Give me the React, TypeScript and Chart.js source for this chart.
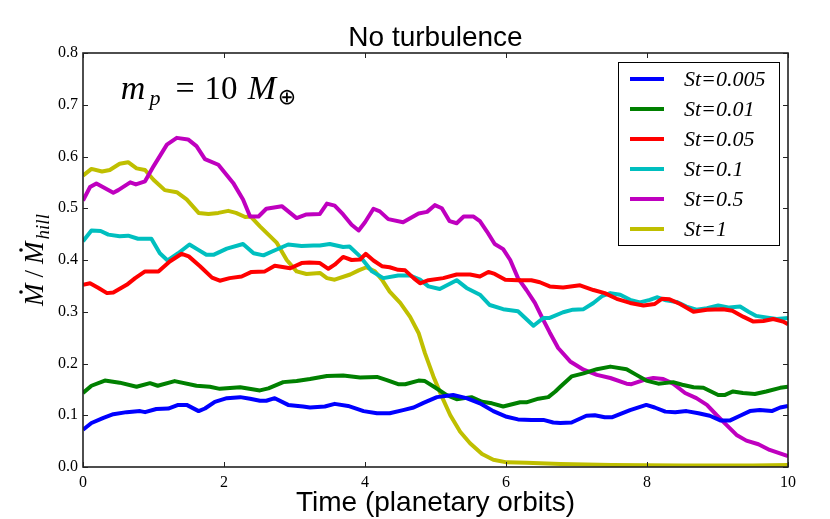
import React, { useEffect, useRef } from "react";
import { Chart, registerables } from "chart.js";

Chart.register(...registerables);

// ---- data ----
const xTicks = [0, 2, 4, 6, 8, 10];
const yTicks = [0, 0.1, 0.2, 0.3, 0.4, 0.5, 0.6, 0.7, 0.8];

const st005T = [0,0.12,0.29,0.43,0.62,0.81,0.88,1.04,1.21,1.35,1.47,1.64,1.73,1.87,2.04,2.23,2.37,2.51,2.6,2.72,2.91,3.12,3.22,3.43,3.57,3.76,3.98,4.17,4.35,4.54,4.69,4.83,5.02,5.25,5.44,5.63,5.82,6.01,6.17,6.36,6.53,6.67,6.77,6.93,7.14,7.26,7.4,7.5,7.76,7.99,8.11,8.26,8.4,8.56,8.73,8.89,9.04,9.18,9.32,9.46,9.6,9.77,9.89,10];
const st005V = [0.072,0.085,0.095,0.102,0.106,0.108,0.106,0.112,0.113,0.12,0.12,0.108,0.113,0.126,0.133,0.135,0.132,0.128,0.128,0.133,0.12,0.117,0.115,0.117,0.122,0.118,0.108,0.104,0.104,0.11,0.115,0.124,0.135,0.139,0.133,0.123,0.108,0.097,0.092,0.091,0.091,0.086,0.085,0.086,0.099,0.1,0.096,0.096,0.11,0.12,0.115,0.107,0.106,0.108,0.104,0.099,0.09,0.09,0.099,0.108,0.11,0.108,0.115,0.118];

const st01T = [0,0.12,0.31,0.52,0.76,0.95,1.06,1.3,1.61,1.8,1.94,2.23,2.51,2.63,2.84,3.03,3.22,3.46,3.69,3.93,4.17,4.31,4.47,4.57,4.76,4.85,4.99,5.16,5.3,5.51,5.66,5.8,5.96,6.2,6.29,6.46,6.6,6.7,6.77,6.93,7.1,7.29,7.48,7.71,7.85,7.99,8.16,8.37,8.5,8.66,8.8,9.01,9.1,9.22,9.36,9.53,9.69,9.89,10];
const st01V = [0.143,0.157,0.167,0.163,0.155,0.162,0.157,0.166,0.157,0.155,0.151,0.154,0.148,0.152,0.164,0.166,0.17,0.176,0.177,0.173,0.174,0.168,0.16,0.16,0.167,0.166,0.154,0.139,0.131,0.135,0.126,0.123,0.117,0.125,0.125,0.132,0.135,0.146,0.155,0.175,0.181,0.189,0.194,0.189,0.178,0.167,0.161,0.164,0.159,0.154,0.153,0.139,0.139,0.146,0.143,0.141,0.146,0.153,0.155];

const st05T = [0,0.1,0.22,0.34,0.43,0.62,0.74,0.88,1.07,1.23,1.4,1.5,1.66,1.83,1.94,2.08,2.25,2.39,2.58,2.72,2.94,3.1,3.21,3.36,3.48,3.57,3.69,3.81,3.93,4.01,4.12,4.24,4.35,4.47,4.57,4.69,4.78,4.9,5.11,5.3,5.49,5.63,5.75,5.84,5.99,6.17,6.36,6.48,6.62,6.81,7.05,7.24,7.4,7.57,7.76,7.95,8.11,8.21,8.32,8.47,8.66,8.85,9.08,9.21,9.37,9.51,9.65,9.79,9.93,10];
const st05V = [0.352,0.355,0.346,0.336,0.337,0.352,0.365,0.378,0.378,0.397,0.412,0.407,0.388,0.366,0.36,0.365,0.368,0.377,0.378,0.389,0.384,0.394,0.395,0.394,0.383,0.391,0.406,0.4,0.401,0.412,0.399,0.388,0.386,0.381,0.38,0.365,0.355,0.361,0.365,0.372,0.372,0.368,0.377,0.373,0.362,0.361,0.361,0.357,0.349,0.347,0.351,0.342,0.336,0.325,0.317,0.312,0.315,0.325,0.324,0.315,0.3,0.304,0.305,0.302,0.29,0.281,0.282,0.286,0.281,0.276];

const st1T = [0,0.12,0.25,0.36,0.52,0.64,0.78,0.97,1.09,1.2,1.35,1.51,1.63,1.75,1.85,2.04,2.27,2.42,2.56,2.69,2.91,3.1,3.27,3.36,3.5,3.69,3.78,3.93,4.1,4.26,4.47,4.64,4.78,4.9,5.06,5.3,5.44,5.63,5.77,5.96,6.17,6.39,6.53,6.62,6.81,6.95,7.1,7.24,7.36,7.48,7.62,7.76,7.9,8.04,8.14,8.27,8.42,8.56,8.7,8.85,9.01,9.17,9.32,9.44,9.55,9.69,9.84,10];
const st1V = [0.436,0.457,0.456,0.449,0.446,0.447,0.441,0.441,0.413,0.399,0.413,0.43,0.42,0.41,0.41,0.422,0.431,0.413,0.409,0.417,0.43,0.427,0.428,0.428,0.431,0.425,0.426,0.407,0.378,0.365,0.37,0.37,0.362,0.349,0.344,0.361,0.346,0.333,0.313,0.305,0.301,0.273,0.288,0.288,0.299,0.304,0.305,0.317,0.33,0.336,0.333,0.323,0.318,0.323,0.328,0.322,0.319,0.31,0.304,0.307,0.312,0.308,0.31,0.3,0.292,0.289,0.286,0.288];

const st5T = [0,0.1,0.19,0.43,0.5,0.67,0.75,0.88,1.0,1.19,1.33,1.49,1.61,1.73,1.92,2.13,2.27,2.37,2.49,2.6,2.82,3.03,3.17,3.36,3.46,3.57,3.69,3.81,3.91,4.0,4.12,4.21,4.33,4.54,4.76,4.88,4.99,5.09,5.2,5.3,5.4,5.54,5.63,5.73,5.84,5.96,6.06,6.17,6.29,6.41,6.53,6.62,6.74,6.91,7.1,7.29,7.48,7.71,7.78,7.95,8.09,8.23,8.37,8.54,8.7,8.85,8.99,9.13,9.27,9.41,9.58,9.74,10];
const st5V = [0.515,0.541,0.548,0.53,0.535,0.55,0.546,0.552,0.581,0.623,0.636,0.633,0.62,0.595,0.584,0.549,0.517,0.484,0.484,0.499,0.504,0.481,0.488,0.489,0.509,0.505,0.488,0.468,0.457,0.473,0.499,0.494,0.479,0.473,0.49,0.493,0.506,0.5,0.475,0.471,0.484,0.484,0.475,0.455,0.431,0.421,0.4,0.365,0.342,0.317,0.284,0.26,0.23,0.204,0.188,0.178,0.172,0.161,0.16,0.168,0.172,0.17,0.161,0.143,0.133,0.12,0.1,0.081,0.062,0.051,0.044,0.033,0.021];

const st10T = [0,0.12,0.27,0.38,0.52,0.64,0.76,0.88,1.0,1.16,1.33,1.47,1.64,1.78,1.92,2.06,2.17,2.3,2.38,2.51,2.63,2.75,2.89,3.03,3.17,3.36,3.46,3.57,3.79,3.91,4.02,4.14,4.24,4.35,4.5,4.64,4.76,4.85,4.97,5.09,5.21,5.35,5.49,5.66,5.82,6.01,6.29,6.77,7.5,8.5,9.5,10];
const st10V = [0.563,0.576,0.571,0.574,0.586,0.589,0.577,0.574,0.555,0.535,0.531,0.517,0.491,0.489,0.491,0.495,0.491,0.483,0.484,0.465,0.449,0.433,0.4,0.378,0.373,0.375,0.365,0.362,0.372,0.38,0.386,0.378,0.362,0.339,0.317,0.29,0.259,0.22,0.175,0.136,0.1,0.068,0.046,0.025,0.014,0.009,0.008,0.006,0.004,0.003,0.003,0.004];

const seriesLabels = ["St=0.005", "St=0.01", "St=0.05", "St=0.1", "St=0.5", "St=1"];
const seriesColors = ["#0000ff", "#008000", "#ff0000", "#00bfbf", "#bf00bf", "#bfbf00"];
const seriesTimes = [st005T, st01T, st05T, st1T, st5T, st10T];
const seriesValues = [st005V, st01V, st05V, st1V, st5V, st10V];

const titleText = "No turbulence";
const xTitleText = "Time (planetary orbits)";

const SERIF = "'Liberation Serif', 'DejaVu Serif', serif";
const SANS = "'Liberation Sans', Arial, sans-serif";

const decorPlugin = {
  id: "decor",
  afterDatasetsDraw(chart: any) {
    const ctx = chart.ctx as CanvasRenderingContext2D;
    const { left, right, top, bottom } = chart.chartArea;
    const xs = chart.scales.x;
    const ys = chart.scales.y;
    ctx.save();
    // frame
    ctx.strokeStyle = "#222";
    ctx.lineWidth = 1.6;
    ctx.strokeRect(left, top, right - left, bottom - top);
    // inner ticks
    ctx.lineWidth = 1;
    ctx.beginPath();
    const tl = 5;
    xTicks.forEach((t) => {
      const px = Math.round(xs.getPixelForValue(t)) + 0.5;
      ctx.moveTo(px, bottom); ctx.lineTo(px, bottom - tl);
      ctx.moveTo(px, top); ctx.lineTo(px, top + tl);
    });
    yTicks.forEach((t) => {
      const py = Math.round(ys.getPixelForValue(t)) + 0.5;
      ctx.moveTo(left, py); ctx.lineTo(left + tl, py);
      ctx.moveTo(right, py); ctx.lineTo(right - tl, py);
    });
    ctx.stroke();

    // title
    ctx.fillStyle = "#000";
    ctx.textAlign = "center";
    ctx.textBaseline = "alphabetic";
    ctx.font = `28px ${SANS}`;
    ctx.fillText(titleText, (left + right) / 2, 46);
    // x title
    ctx.font = `28px ${SANS}`;
    ctx.fillText(xTitleText, (left + right) / 2, 511);

    // y title: Mdot / Mdot_hill
    ctx.save();
    ctx.translate(43, (top + bottom) / 2);
    ctx.rotate(-Math.PI / 2);
    ctx.textAlign = "left";
    const big = `italic 27px ${SERIF}`;
    const sub = `italic 19px ${SERIF}`;
    const reg = `27px ${SERIF}`;
    ctx.font = big;
    const wM = ctx.measureText("M").width;
    ctx.font = reg;
    const wS = ctx.measureText("/").width;
    ctx.font = sub;
    const wH = ctx.measureText("hill").width;
    const gap = 6;
    const total = wM + gap + wS + gap + wM + 2 + wH;
    let x0 = -total / 2;
    const drawDotM = (x: number) => {
      ctx.font = big;
      ctx.fillText("M", x, 0);
      ctx.beginPath();
      ctx.arc(x + wM * 0.62, -22, 1.8, 0, Math.PI * 2);
      ctx.fill();
    };
    drawDotM(x0);
    x0 += wM + gap;
    ctx.font = reg;
    ctx.fillText("/", x0, 0);
    x0 += wS + gap;
    drawDotM(x0);
    x0 += wM + 2;
    ctx.font = sub;
    ctx.fillText("hill", x0, 6);
    ctx.restore();

    // annotation m_p = 10 M_earth
    const ab = 99;
    ctx.textAlign = "center";
    ctx.font = `italic 34px ${SERIF}`;
    ctx.fillText("m", 133, ab);
    ctx.font = `italic 22px ${SERIF}`;
    ctx.fillText("p", 155, ab + 6);
    ctx.font = `34px ${SERIF}`;
    ctx.fillText("=", 185, ab);
    ctx.font = `33px ${SERIF}`;
    ctx.fillText("10", 221, ab);
    ctx.font = `italic 34px ${SERIF}`;
    ctx.fillText("M", 262, ab);
    ctx.font = `22px 'DejaVu Sans', sans-serif`;
    ctx.fillText("⊕", 287, ab + 5);

    // legend
    const lx = 618, ly = 62, lw = 161, lh = 183;
    ctx.fillStyle = "#fff";
    ctx.fillRect(lx, ly, lw, lh);
    ctx.strokeStyle = "#000";
    ctx.lineWidth = 1;
    ctx.strokeRect(lx + 0.5, ly + 0.5, lw, lh);
    ctx.font = `italic 22px ${SERIF}`;
    ctx.textBaseline = "middle";
    ctx.textAlign = "left";
    seriesLabels.forEach((lab, i) => {
      const yy = 79 + i * 30;
      ctx.strokeStyle = seriesColors[i];
      ctx.lineWidth = 4;
      ctx.beginPath();
      ctx.moveTo(630, yy);
      ctx.lineTo(664, yy);
      ctx.stroke();
      ctx.fillStyle = "#000";
      ctx.fillText(lab, 684, yy + 1);
    });
    ctx.restore();
  },
};

export default function App() {
  const ref = useRef<HTMLCanvasElement | null>(null);
  useEffect(() => {
    document.body.style.margin = "0";
    const canvas = ref.current;
    if (!canvas) return;
    const datasets = seriesLabels.map((lab, i) => ({
      label: lab,
      data: seriesTimes[i].map((t, j) => ({ x: t, y: seriesValues[i][j] })),
      borderColor: seriesColors[i],
      backgroundColor: seriesColors[i],
      borderWidth: 4,
      pointRadius: 0,
      tension: 0,
      fill: false,
      borderJoinStyle: "round" as const,
    }));
    const chart = new Chart(canvas, {
      type: "line",
      data: { datasets },
      options: {
        responsive: false,
        animation: false,
        events: [],
        layout: { padding: { top: 53, right: 42, bottom: 0, left: 0 } },
        plugins: { legend: { display: false }, title: { display: false }, tooltip: { enabled: false } },
        scales: {
          x: {
            type: "linear",
            min: 0,
            max: 10,
            afterBuildTicks: (s: any) => { s.ticks = xTicks.map((v) => ({ value: v })); },
            afterFit: (s: any) => { s.height = 52; },
            grid: { display: false, drawTicks: false },
            border: { display: false },
            ticks: {
              color: "#000",
              padding: 6,
              font: { family: SERIF, size: 16 },
              maxRotation: 0,
              callback: (v: any) => String(v),
            },
          },
          y: {
            type: "linear",
            min: 0,
            max: 0.8,
            afterBuildTicks: (s: any) => { s.ticks = yTicks.map((v) => ({ value: v })); },
            afterFit: (s: any) => { s.width = 83; },
            grid: { display: false, drawTicks: false },
            border: { display: false },
            ticks: {
              color: "#000",
              padding: 5,
              font: { family: SERIF, size: 16 },
              callback: (v: any) => Number(v).toFixed(1),
            },
          },
        },
      },
      plugins: [decorPlugin],
    });
    return () => chart.destroy();
  }, []);
  return <canvas ref={ref} width={830} height={519} style={{ display: "block" }} />;
}
